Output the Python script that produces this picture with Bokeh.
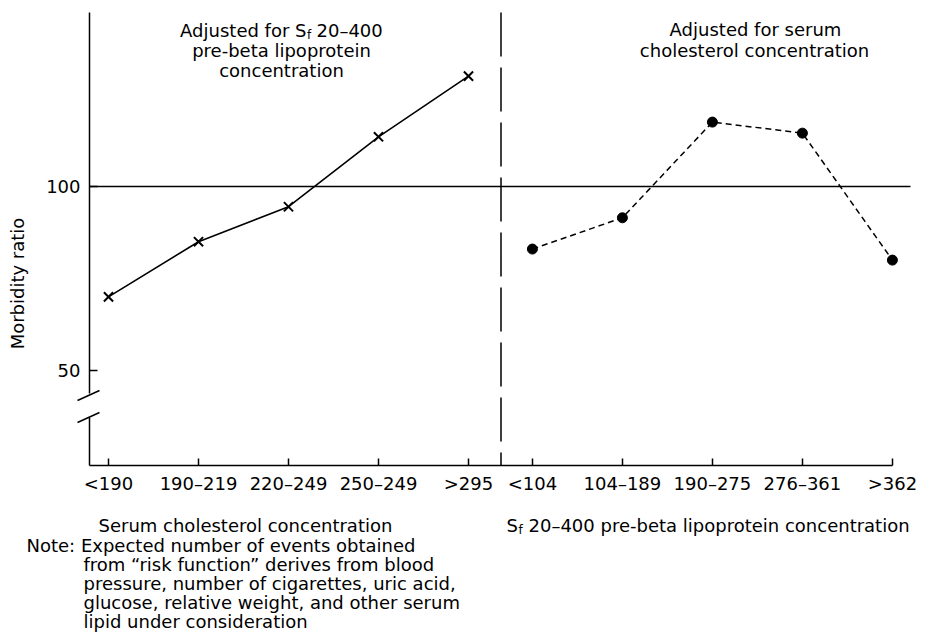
import math
from bokeh.plotting import figure
from bokeh.models import FixedTicker, Label, Range1d
from bokeh.embed import file_html
from bokeh.resources import INLINE

# ---- data ----
chol_labels = ["<190", "190–219", "220–249", "250–249", ">295"]
chol_ratio = [70, 85, 94.5, 113.5, 130]
lipo_labels = ["<104", "104–189", "190–275", "276–361", ">362"]
lipo_ratio = [83, 91.5, 117.5, 114.5, 80]
y_ticks = [50, 100]
reference_ratio = 100

FONT = "DejaVu Sans"
FS = "18px"
W, H = 928, 632

# pixel helpers (layout only): x=0 at px 108, 90 px per category; y=100 at px 186
PX0, PXS = 108.0, 90.0
PY100, PYS = 186.0, 3.68


def dx(px):
    return (px - PX0) / PXS


def dy(py):
    return 100 - (py - PY100) / PYS


left_x = [float(i) for i in range(len(chol_labels))]
right_x = [round(4.71 + i, 2) for i in range(len(lipo_labels))]

X_AXIS_AT = dy(465)
Y_AXIS_AT = dx(89)
TOP = dy(12)

p = figure(width=W, height=H, output_backend="svg", toolbar_location=None,
           x_range=Range1d(dx(0), dx(W)), y_range=Range1d(dy(H), dy(0)),
           min_border=0, min_border_left=0, min_border_right=0,
           min_border_top=0, min_border_bottom=0)
p.outline_line_color = None
p.grid.visible = False
p.background_fill_color = "white"
p.border_fill_color = "white"

# x axis (drawn inside the frame at a fixed location)
xa = p.xaxis[0]
xa.fixed_location = X_AXIS_AT
xa.ticker = FixedTicker(ticks=left_x + right_x)
xa.major_label_overrides = {x: l for x, l in zip(left_x + right_x, chol_labels + lipo_labels)}
xa.bounds = (Y_AXIS_AT, right_x[-1])
xa.major_tick_in = 7
xa.major_tick_out = 0
xa.minor_tick_line_color = None
xa.axis_line_width = 1.5
xa.major_tick_line_width = 1.5
xa.axis_line_color = "black"
xa.major_tick_line_color = "black"
xa.major_label_text_font = FONT
xa.major_label_text_font_size = FS
xa.major_label_text_color = "black"
xa.major_label_standoff = 7

# y axis
ya = p.yaxis[0]
ya.fixed_location = Y_AXIS_AT
ya.ticker = FixedTicker(ticks=y_ticks)
ya.bounds = (dy(393), TOP)
ya.major_tick_in = 8
ya.major_tick_out = 0
ya.minor_tick_line_color = None
ya.axis_line_width = 1.5
ya.major_tick_line_width = 1.5
ya.axis_line_color = "black"
ya.major_tick_line_color = "black"
ya.major_label_text_font = FONT
ya.major_label_text_font_size = FS
ya.major_label_text_color = "black"
ya.major_label_standoff = 9

# reference line at 100 and panel separator
p.segment(x0=[Y_AXIS_AT], y0=[reference_ratio], x1=[dx(910)], y1=[reference_ratio],
          line_color="black", line_width=1.5)
SEP = dx(500.5)
p.segment(x0=[SEP], y0=[TOP], x1=[SEP], y1=[X_AXIS_AT], line_color="black",
          line_width=1.5, line_dash="44 11")

# series
p.line(left_x, chol_ratio, line_color="black", line_width=1.6)
p.scatter(left_x, chol_ratio, marker="x", size=13, line_color="black", line_width=2)
p.line(right_x, lipo_ratio, line_color="black", line_width=1.5, line_dash="6 4")
p.scatter(right_x, lipo_ratio, marker="circle", size=10, fill_color="black", line_color="black")

# axis break: lower part of the y axis and two slashes
p.segment(x0=[Y_AXIS_AT], y0=[dy(417)], x1=[Y_AXIS_AT], y1=[X_AXIS_AT],
          line_color="black", line_width=1.5)
p.segment(x0=[dx(77), dx(77)], y0=[dy(400), dy(422)], x1=[dx(99), dx(99)], y1=[dy(390), dy(412)],
          line_color="black", line_width=1.5)


def lab(text, px, py, align="left", size=FS, angle=0, baseline="alphabetic"):
    p.add_layout(Label(x=dx(px), y=dy(py), text=text, text_font=FONT, text_font_size=size,
                       text_color="black", text_align=align, text_baseline=baseline,
                       angle=angle))


# y-axis title
lab("Morbidity ratio", 17, 283, align="center", angle=math.pi / 2, baseline="middle")

# left header
XS = 306
lab("Adjusted for S", XS, 30, align="right")
lab("f", XS + 0.5, 34, size="12px")
lab("20–400", XS + 10, 30)
lab("pre-beta lipoprotein", 281, 50, align="center")
lab("concentration", 281, 70, align="center")

# right header
lab("Adjusted for serum", 755, 29, align="center")
lab("cholesterol concentration", 754, 50, align="center")

# axis titles
lab("Serum cholesterol concentration", 98, 525)
lab("S", 506, 525)
lab("f", 518, 529, size="12px")
lab("20–400 pre-beta lipoprotein concentration", 528, 525)

# note
lab("Note: Expected number of events obtained", 26, 545)
note_lines = ["from “risk function” derives from blood",
              "pressure, number of cigarettes, uric acid,",
              "glucose, relative weight, and other serum",
              "lipid under consideration"]
for i, t in enumerate(note_lines):
    lab(t, 83, 564 + 19 * i)

open("out.html", "w").write(file_html(p, INLINE))
